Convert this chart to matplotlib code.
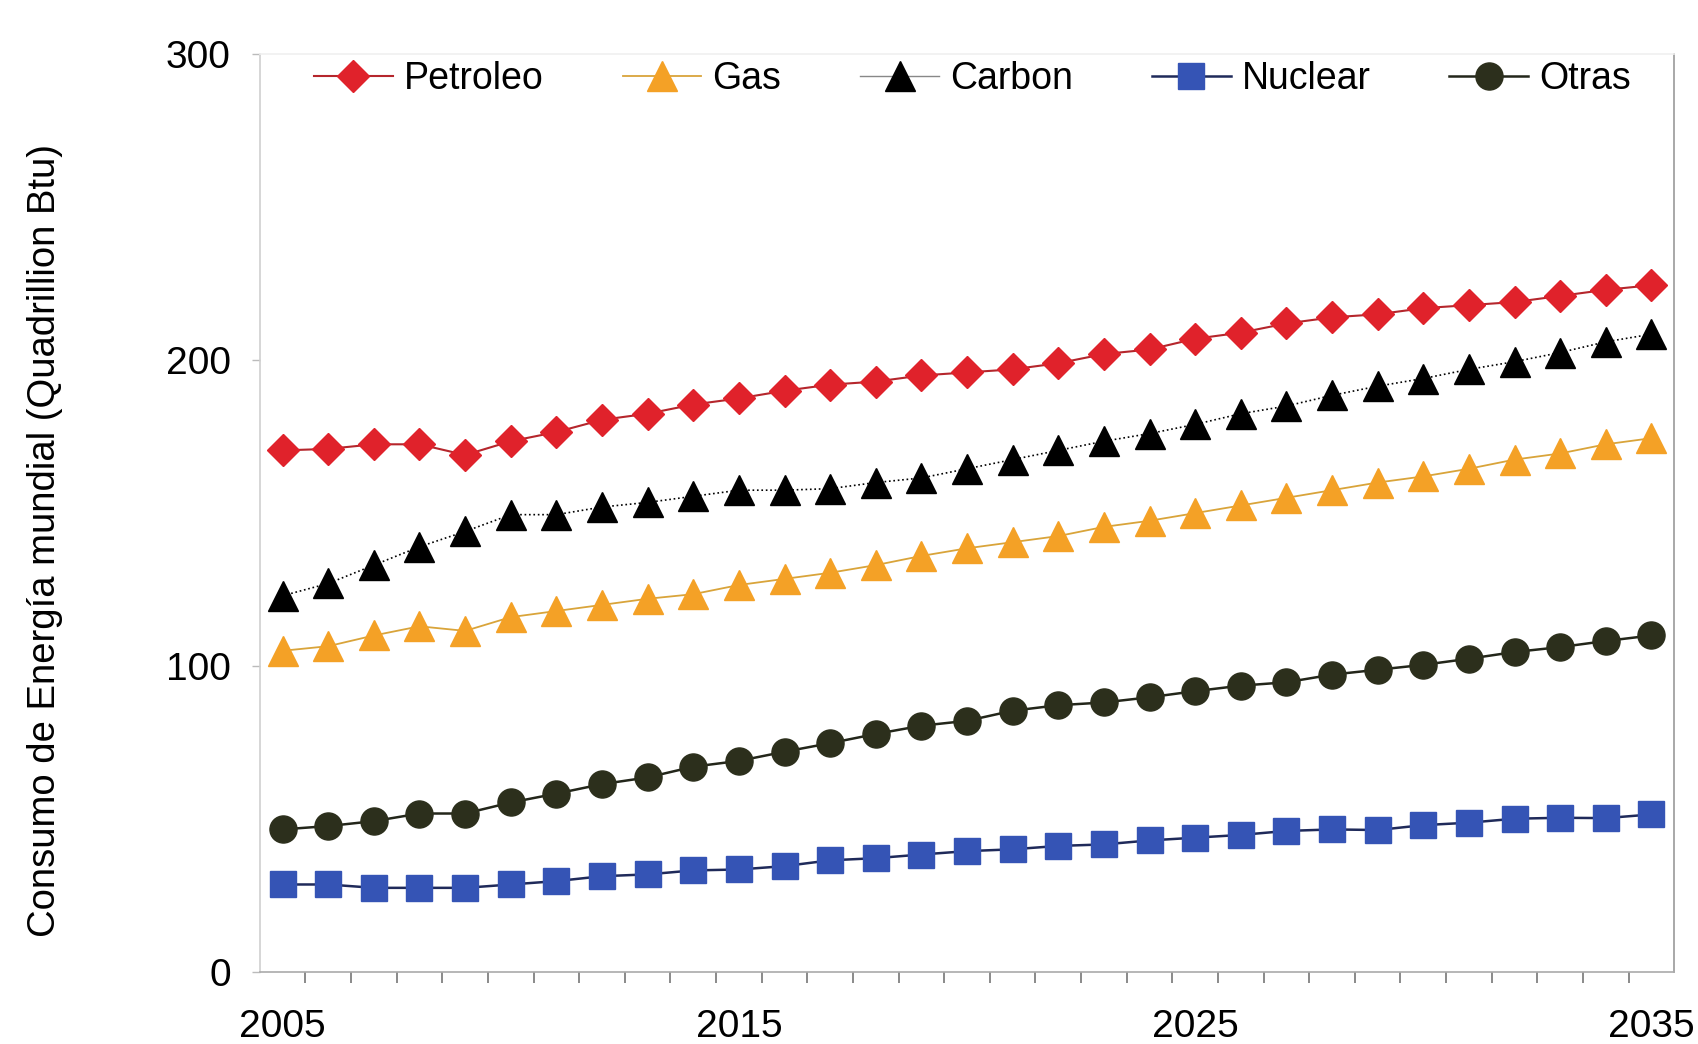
import matplotlib
matplotlib.use("Agg")
import matplotlib.pyplot as plt
import numpy as np

years = list(range(2005, 2036))
petroleo = [170.5, 171, 172.5, 172.5, 169, 173.5, 176.5, 180.5, 182.5, 185.5, 187.5,
            190, 192, 193, 195, 196, 197, 199, 202, 203.5, 207, 209, 212, 214, 215,
            217, 218, 219, 221, 223, 224.5]
gas = [105, 106.5, 110, 113, 111.5, 116, 118, 120, 122, 123.5, 126.5, 128.5, 130.5,
       133, 136, 138.5, 140.5, 142.5, 145.5, 147.5, 150, 152.5, 155, 157.5, 160, 162,
       164.5, 167.5, 169.5, 172.5, 174.5]
carbon = [123, 127, 133, 139, 144, 149.5, 149.5, 152, 153.5, 155.5, 157.5, 157.5, 158,
          160, 161.5, 164.5, 167.5, 170.5, 173.5, 176, 179, 182.5, 185, 188.5, 191.5,
          194, 197, 199.5, 202.5, 206, 208.5]
nuclear = [28.6, 28.6, 27.5, 27.5, 27.5, 28.6, 29.7, 31.3, 31.9, 33.2, 33.5, 34.6, 36.5,
           37.2, 38.4, 39.5, 40.1, 41.2, 41.7, 43, 43.9, 44.8, 46.1, 46.6, 46.4, 48,
           48.8, 50.1, 50.4, 50.3, 51.5]
otras = [46.6, 47.7, 49.3, 51.8, 51.8, 55.4, 58.3, 61.4, 63.6, 67.1, 69, 72, 74.8, 77.8,
         80.5, 82.1, 85.4, 87.2, 88.1, 89.8, 91.8, 93.6, 94.7, 97.2, 98.8, 100.4, 102.4,
         104.6, 106.2, 108.2, 110]
labels = ["Petroleo", "Gas", "Carbon", "Nuclear", "Otras"]
xtick_years = [2005, 2015, 2025, 2035]
yticks = [0, 100, 200, 300]
ylabel = "Consumo de Energía mundial (Quadrillion Btu)"

plt.rcParams['font.family'] = ['Liberation Sans', 'DejaVu Sans']

fig = plt.figure(figsize=(16.98, 10.44), dpi=100)
ax = fig.add_axes([0.153, 0.069, 0.833, 0.879])

ax.plot(years, petroleo, color='#b5262c', lw=1.5, marker='D', ms=16.5,
        mfc='#e0222b', mec='#e0222b', label=labels[0])
ax.plot(years, gas, color='#d9a43a', lw=1.3, marker='^', ms=22,
        mfc='#f4a126', mec='#f4a126', label=labels[1])
ax.plot(years, carbon, color='black', lw=1.2, ls=':', marker='^', ms=22,
        mfc='black', mec='black', label=labels[2])
ax.plot(years, nuclear, color='#1f2a5a', lw=1.8, marker='s', ms=19,
        mfc='#3554b5', mec='#3554b5', label=labels[3])
ax.plot(years, otras, color='#23261a', lw=1.8, marker='o', ms=19.5,
        mfc='#2c2f1c', mec='#2c2f1c', label=labels[4])

ax.set_xlim(2004.5, 2035.5)
ax.set_ylim(0, 300)

ax.set_xticks(xtick_years)
ax.set_xticklabels([str(y) for y in xtick_years], fontsize=28)
ax.set_xticks(np.arange(2005.5, 2035.0, 1.0), minor=True)
ax.tick_params(axis='x', which='major', length=0, pad=27)
ax.tick_params(axis='x', which='minor', length=8, width=1.2, color='#777777', direction='out')

ax.set_yticks(yticks)
ax.set_yticklabels([str(v) for v in yticks], fontsize=28)
ax.tick_params(axis='y', which='major', length=6, width=1, color='#bbbbbb', pad=15)

ax.set_ylabel(ylabel, fontsize=27.5)
ax.yaxis.set_label_coords(-0.139, 0.47)

ax.spines['left'].set_color('#cfcfcf')
ax.spines['bottom'].set_color('#aaaaaa')
ax.spines['right'].set_color('#999999')
ax.spines['top'].set_color('#f0f0f0')
for s in ax.spines.values():
    s.set_linewidth(1.2)

leg = ax.legend(loc='center', bbox_to_anchor=(0.504, 0.973), ncol=5, frameon=False,
                fontsize=27, handlelength=2.1, handletextpad=0.3, columnspacing=2.1,
                borderaxespad=0.0, borderpad=0.0)
leg.get_lines()[2].set_linestyle('-')
leg.get_lines()[2].set_color('#888888')
leg.get_lines()[2].set_linewidth(1.0)

fig.savefig("out.png", dpi=100, facecolor='white')
